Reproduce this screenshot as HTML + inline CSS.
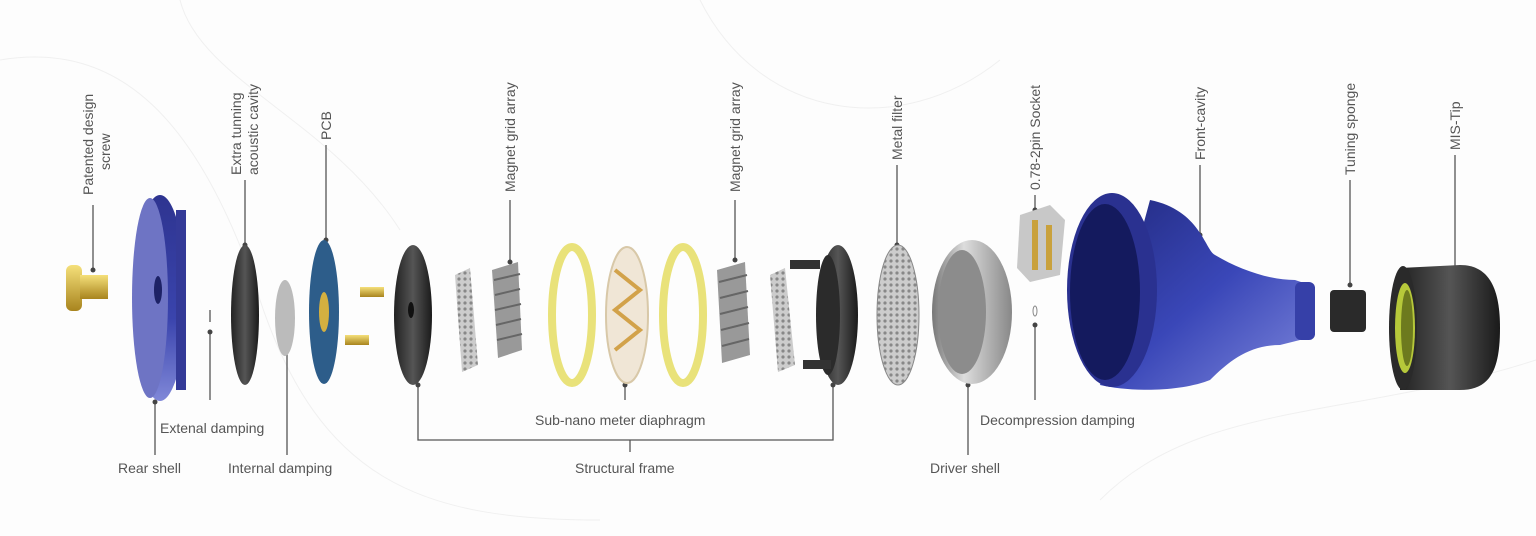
<!DOCTYPE html>
<html><head><meta charset="utf-8"><style>
html,body{margin:0;padding:0;background:#fff;}
svg{display:block;}
text{font-family:"Liberation Sans",sans-serif;font-size:14px;fill:#555;}
</style></head><body>
<svg width="1536" height="536" viewBox="0 0 1536 536" xmlns="http://www.w3.org/2000/svg">
<defs>
<linearGradient id="blue" x1="0" y1="0" x2="0" y2="1"><stop offset="0" stop-color="#2e3490"/><stop offset="0.6" stop-color="#3a44ad"/><stop offset="1" stop-color="#8088d8"/></linearGradient>
<linearGradient id="blue2" x1="0" y1="0" x2="1" y2="1"><stop offset="0" stop-color="#222a80"/><stop offset="0.5" stop-color="#3a47b8"/><stop offset="1" stop-color="#7f88dc"/></linearGradient>
<linearGradient id="gold" x1="0" y1="0" x2="0" y2="1"><stop offset="0" stop-color="#f5e07a"/><stop offset="1" stop-color="#a8841e"/></linearGradient>
<linearGradient id="silver" x1="0" y1="0" x2="1" y2="0"><stop offset="0" stop-color="#777"/><stop offset="0.4" stop-color="#ddd"/><stop offset="1" stop-color="#888"/></linearGradient>
<linearGradient id="black" x1="0" y1="0" x2="1" y2="0"><stop offset="0" stop-color="#222"/><stop offset="0.5" stop-color="#555"/><stop offset="1" stop-color="#1a1a1a"/></linearGradient>
<pattern id="mesh" width="6" height="6" patternUnits="userSpaceOnUse"><rect width="6" height="6" fill="#ccc"/><circle cx="3" cy="3" r="1.6" fill="#888"/></pattern>
</defs>
<rect width="1536" height="536" fill="#fdfdfd"/>
<g fill="none" stroke="#f0f0f0" stroke-width="1">
<path d="M0 60 C120 40 200 120 260 300 S 420 520 600 520"/>
<path d="M180 0 C200 80 330 120 400 230"/>
<path d="M700 0 C760 120 900 140 1000 60"/>
<path d="M1100 500 C1200 400 1350 420 1536 360"/>
</g>
<g stroke="#555" stroke-width="1.3" fill="none">
<line x1="93" y1="205" x2="93" y2="270"/>
<line x1="155" y1="402" x2="155" y2="455"/>
<line x1="210" y1="310" x2="210" y2="322"/>
<line x1="210" y1="332" x2="210" y2="400"/>
<line x1="245" y1="180" x2="245" y2="245"/>
<line x1="287" y1="350" x2="287" y2="455"/>
<line x1="326" y1="145" x2="326" y2="240"/>
<polyline points="418,385 418,440 833,440 833,385"/>
<line x1="630" y1="440" x2="630" y2="452"/>
<line x1="510" y1="200" x2="510" y2="262"/>
<line x1="625" y1="385" x2="625" y2="400"/>
<line x1="735" y1="200" x2="735" y2="260"/>
<line x1="897" y1="165" x2="897" y2="245"/>
<line x1="968" y1="385" x2="968" y2="455"/>
<line x1="1035" y1="195" x2="1035" y2="210"/>
<line x1="1035" y1="325" x2="1035" y2="400"/>
<line x1="1200" y1="165" x2="1200" y2="235"/>
<line x1="1350" y1="180" x2="1350" y2="285"/>
<line x1="1455" y1="155" x2="1455" y2="270"/>
</g>
<g fill="#444">
<circle cx="93" cy="270" r="2.5"/><circle cx="155" cy="402" r="2.5"/><circle cx="210" cy="332" r="2.5"/>
<circle cx="245" cy="245" r="2.5"/><circle cx="287" cy="350" r="2.5"/><circle cx="326" cy="240" r="2.5"/>
<circle cx="418" cy="385" r="2.5"/><circle cx="833" cy="385" r="2.5"/><circle cx="510" cy="262" r="2.5"/>
<circle cx="625" cy="385" r="2.5"/><circle cx="735" cy="260" r="2.5"/><circle cx="897" cy="245" r="2.5"/>
<circle cx="968" cy="385" r="2.5"/><circle cx="1035" cy="210" r="2.5"/><circle cx="1035" cy="325" r="2.5"/>
<circle cx="1200" cy="235" r="2.5"/><circle cx="1350" cy="285" r="2.5"/><circle cx="1455" cy="270" r="2.5"/>
</g>
<!-- screw -->
<rect x="66" y="265" width="16" height="46" rx="6" fill="url(#gold)"/>
<rect x="80" y="275" width="28" height="24" fill="url(#gold)"/>
<!-- rear shell -->
<ellipse cx="160" cy="298" rx="26" ry="103" fill="url(#blue)"/>
<ellipse cx="150" cy="298" rx="18" ry="100" fill="#6e74c4"/>
<rect x="176" y="210" width="10" height="180" fill="#343a98"/>
<ellipse cx="158" cy="290" rx="4" ry="14" fill="#1d2266"/>
<!-- cavity disc -->
<ellipse cx="245" cy="315" rx="14" ry="70" fill="url(#black)"/>
<ellipse cx="285" cy="318" rx="10" ry="38" fill="#bbb"/>
<!-- PCB -->
<ellipse cx="324" cy="312" rx="15" ry="72" fill="#2d5d8a"/>
<ellipse cx="324" cy="312" rx="5" ry="20" fill="#d4b040"/>
<rect x="360" y="287" width="24" height="10" fill="url(#gold)"/>
<rect x="345" y="335" width="24" height="10" fill="url(#gold)"/>
<!-- structural frame 1 -->
<ellipse cx="413" cy="315" rx="19" ry="70" fill="url(#black)"/>
<ellipse cx="411" cy="310" rx="3" ry="8" fill="#111"/>
<polygon points="455,275 470,268 478,365 462,372" fill="url(#mesh)"/>
<polygon points="492,270 518,262 522,350 498,358" fill="#999"/>
<g stroke="#666" stroke-width="2"><line x1="494" y1="280" x2="520" y2="274"/><line x1="495" y1="295" x2="520" y2="289"/><line x1="495" y1="310" x2="521" y2="304"/><line x1="496" y1="325" x2="521" y2="319"/><line x1="497" y1="340" x2="522" y2="334"/></g>
<!-- yellow rings & diaphragm -->
<ellipse cx="572" cy="315" rx="20" ry="68" fill="none" stroke="#e9e27a" stroke-width="8"/>
<ellipse cx="627" cy="315" rx="21" ry="68" fill="#f0e6d6" stroke="#d8c8a8" stroke-width="2"/>
<path d="M615 270 L640 290 L615 310 L640 330 L615 350" stroke="#d2a24a" stroke-width="4" fill="none"/>
<ellipse cx="683" cy="315" rx="20" ry="68" fill="none" stroke="#e9e27a" stroke-width="8"/>
<polygon points="717,270 745,262 750,355 722,363" fill="#999"/>
<g stroke="#666" stroke-width="2"><line x1="719" y1="282" x2="747" y2="275"/><line x1="720" y1="298" x2="748" y2="291"/><line x1="720" y1="314" x2="748" y2="307"/><line x1="721" y1="330" x2="749" y2="323"/><line x1="722" y1="346" x2="749" y2="339"/></g>
<polygon points="770,275 785,268 795,365 778,372" fill="url(#mesh)"/>
<!-- frame 2 -->
<ellipse cx="838" cy="315" rx="20" ry="70" fill="url(#black)"/>
<ellipse cx="828" cy="315" rx="12" ry="60" fill="#2b2b2b"/>
<rect x="790" y="260" width="30" height="9" fill="#333"/>
<rect x="803" y="360" width="28" height="9" fill="#333"/>
<!-- metal filter -->
<ellipse cx="898" cy="315" rx="21" ry="70" fill="url(#mesh)" stroke="#888"/>
<!-- driver shell -->
<ellipse cx="972" cy="312" rx="40" ry="72" fill="url(#silver)"/>
<ellipse cx="962" cy="312" rx="24" ry="62" fill="#8c8c8c"/>
<!-- socket -->
<polygon points="1020,215 1050,205 1065,220 1060,275 1030,282 1017,268" fill="#c8c8c8"/>
<rect x="1032" y="220" width="6" height="50" fill="#c9a13c"/><rect x="1046" y="225" width="6" height="45" fill="#c9a13c"/>
<ellipse cx="1035" cy="311" rx="2" ry="5" fill="none" stroke="#888"/>
<!-- front cavity -->
<path d="M1150 200 C1200 210 1205 250 1215 255 C1240 270 1270 280 1295 280 L1310 285 L1315 335 L1300 340 L1280 345 C1250 345 1230 360 1210 380 C1180 392 1130 392 1100 385 Z" fill="url(#blue2)"/>
<ellipse cx="1112" cy="290" rx="45" ry="97" fill="#2a3190"/>
<ellipse cx="1105" cy="292" rx="35" ry="88" fill="#141a5e"/>
<rect x="1295" y="282" width="20" height="58" rx="6" fill="#3640a8"/>
<!-- sponge -->
<rect x="1330" y="290" width="36" height="42" rx="4" fill="#2a2a2a"/>
<!-- tip -->
<path d="M1400 268 L1460 265 C1490 265 1500 290 1500 328 C1500 370 1490 390 1460 390 L1400 390 Z" fill="url(#black)"/>
<ellipse cx="1403" cy="328" rx="14" ry="62" fill="#2a2a2a"/>
<ellipse cx="1405" cy="328" rx="10" ry="45" fill="#b6c83a"/>
<ellipse cx="1407" cy="328" rx="6" ry="38" fill="#6d7a1e"/>
<!-- vertical labels -->
<text transform="translate(93,195) rotate(-90)">Patented design</text>
<text transform="translate(110,170) rotate(-90)">screw</text>
<text transform="translate(241,175) rotate(-90)">Extra tunning</text>
<text transform="translate(258,175) rotate(-90)">acoustic cavity</text>
<text transform="translate(331,140) rotate(-90)">PCB</text>
<text transform="translate(515,192) rotate(-90)">Magnet grid array</text>
<text transform="translate(740,192) rotate(-90)">Magnet grid array</text>
<text transform="translate(902,160) rotate(-90)">Metal filter</text>
<text transform="translate(1040,190) rotate(-90)">0.78-2pin Socket</text>
<text transform="translate(1205,160) rotate(-90)">Front-cavity</text>
<text transform="translate(1355,175) rotate(-90)">Tuning sponge</text>
<text transform="translate(1460,150) rotate(-90)">MIS-Tip</text>
<!-- horizontal labels -->
<text x="118" y="473">Rear shell</text>
<text x="160" y="433">Extenal damping</text>
<text x="228" y="473">Internal damping</text>
<text x="535" y="425">Sub-nano meter diaphragm</text>
<text x="575" y="473">Structural frame</text>
<text x="930" y="473">Driver shell</text>
<text x="980" y="425">Decompression damping</text>
</svg>
</body></html>
